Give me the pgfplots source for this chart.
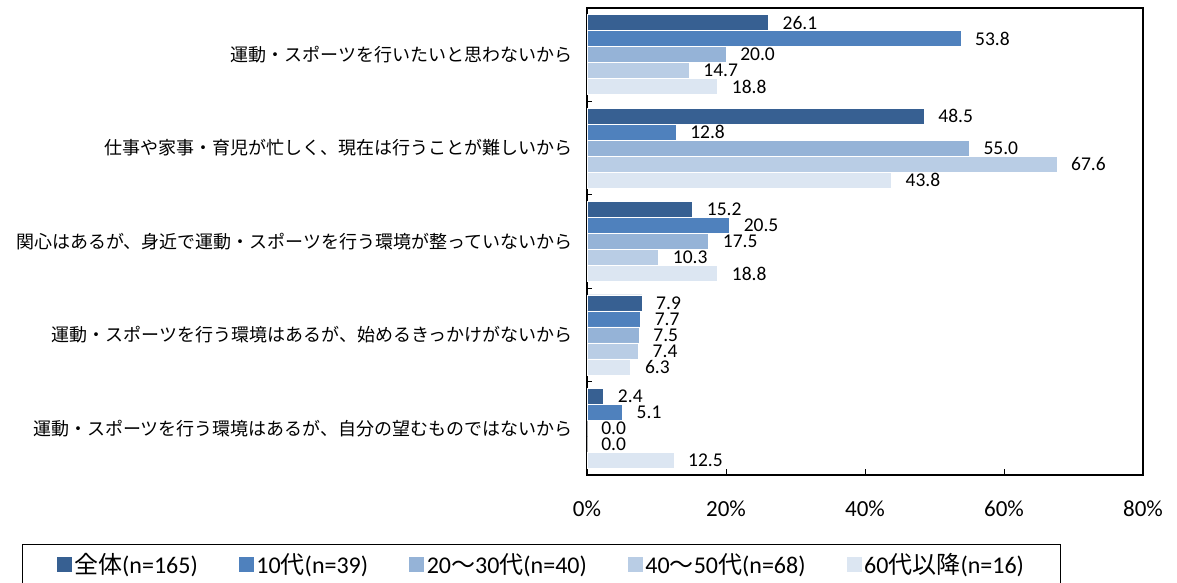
\documentclass[border=0pt]{standalone}
\usepackage{fontspec}
\setmainfont{Carlito}
\newfontfamily\cjk{Noto Sans CJK JP}
\usepackage{pgfplots}
\pgfplotsset{compat=1.18}

\definecolor{s1}{HTML}{376092}
\definecolor{s2}{HTML}{4F81BD}
\definecolor{s3}{HTML}{95B3D7}
\definecolor{s4}{HTML}{B9CDE5}
\definecolor{s5}{HTML}{DCE6F2}

\pgfplotsset{
  sq/.style={fill=#1, draw=white, line width=0.6bp,
    legend image code/.code={\fill[#1] (0bp,-7bp) rectangle (14bp,7bp);}},
}

\begin{document}
\begin{tikzpicture}
\useasboundingbox (0,0) rectangle (1177bp,583bp);
\begin{axis}[
  at={(587bp,108bp)}, anchor=south west,
  scale only axis, width=556bp, height=467bp,
  xbar=0pt, bar width=16bp,
  xmin=0, xmax=80, ymin=-0.5, ymax=4.5, y dir=reverse,
  axis line style={line width=1.5bp},
  xtick={0,20,40,60,80}, xticklabels={0\%,20\%,40\%,60\%,80\%},
  xtick pos=left, ytick pos=left,
  tick align=inside, major tick length=6bp, minor tick length=5bp,
  tick style={black, line width=1bp},
  xticklabel style={font=\fontsize{23bp}{24bp}\selectfont, yshift=-22bp},
  ytick={0,1,2,3,4},
  yticklabels={
    {運動・スポーツを行いたいと思わないから},
    {仕事や家事・育児が忙しく、現在は行うことが難しいから},
    {関心はあるが、身近で運動・スポーツを行う環境が整っていないから},
    {運動・スポーツを行う環境はあるが、始めるきっかけがないから},
    {運動・スポーツを行う環境はあるが、自分の望むものではないから}},
  yticklabel style={font=\cjk\fontsize{18bp}{20bp}\selectfont, xshift=-11bp},
  major y tick style={draw=none},
  minor ytick={0.5,1.5,2.5,3.5},
  nodes near coords={\pgfmathprintnumber[fixed,fixed zerofill,precision=1,assume math mode=true]{\pgfplotspointmeta}},
  nodes near coords style={font=\fontsize{19.5bp}{20bp}\selectfont, anchor=west, inner sep=0pt, xshift=14bp, black},
  legend columns=5,
  legend style={at={(axis description cs:-1.016,-0.1478)}, anchor=north west,
    draw=black, line width=1bp, inner xsep=34bp, inner ysep=7bp,
    font=\fontsize{24bp}{26bp}\selectfont,
    nodes={inner xsep=3bp},
    /tikz/every even column/.append style={column sep=38bp}},
]
% 全体
\addplot[sq=s1, bar shift=32bp] coordinates {(26.1,0) (48.5,1) (15.2,2) (7.9,3) (2.4,4)};
\addlegendentry{{\cjk 全体}(n=165)}
% 10代
\addplot[sq=s2, bar shift=16bp] coordinates {(53.8,0) (12.8,1) (20.5,2) (7.7,3) (5.1,4)};
\addlegendentry{10{\cjk 代}(n=39)}
% 20～30代
\addplot[sq=s3, bar shift=0bp] coordinates {(20.0,0) (55.0,1) (17.5,2) (7.5,3) (0.0,4)};
\addlegendentry{20{\cjk ～}30{\cjk 代}(n=40)}
% 40～50代
\addplot[sq=s4, bar shift=-16bp] coordinates {(14.7,0) (67.6,1) (10.3,2) (7.4,3) (0.0,4)};
\addlegendentry{40{\cjk ～}50{\cjk 代}(n=68)}
% 60代以降
\addplot[sq=s5, bar shift=-32bp] coordinates {(18.8,0) (43.8,1) (18.8,2) (6.3,3) (12.5,4)};
\addlegendentry{60{\cjk 代以降}(n=16)}
\end{axis}
\end{tikzpicture}
\end{document}
